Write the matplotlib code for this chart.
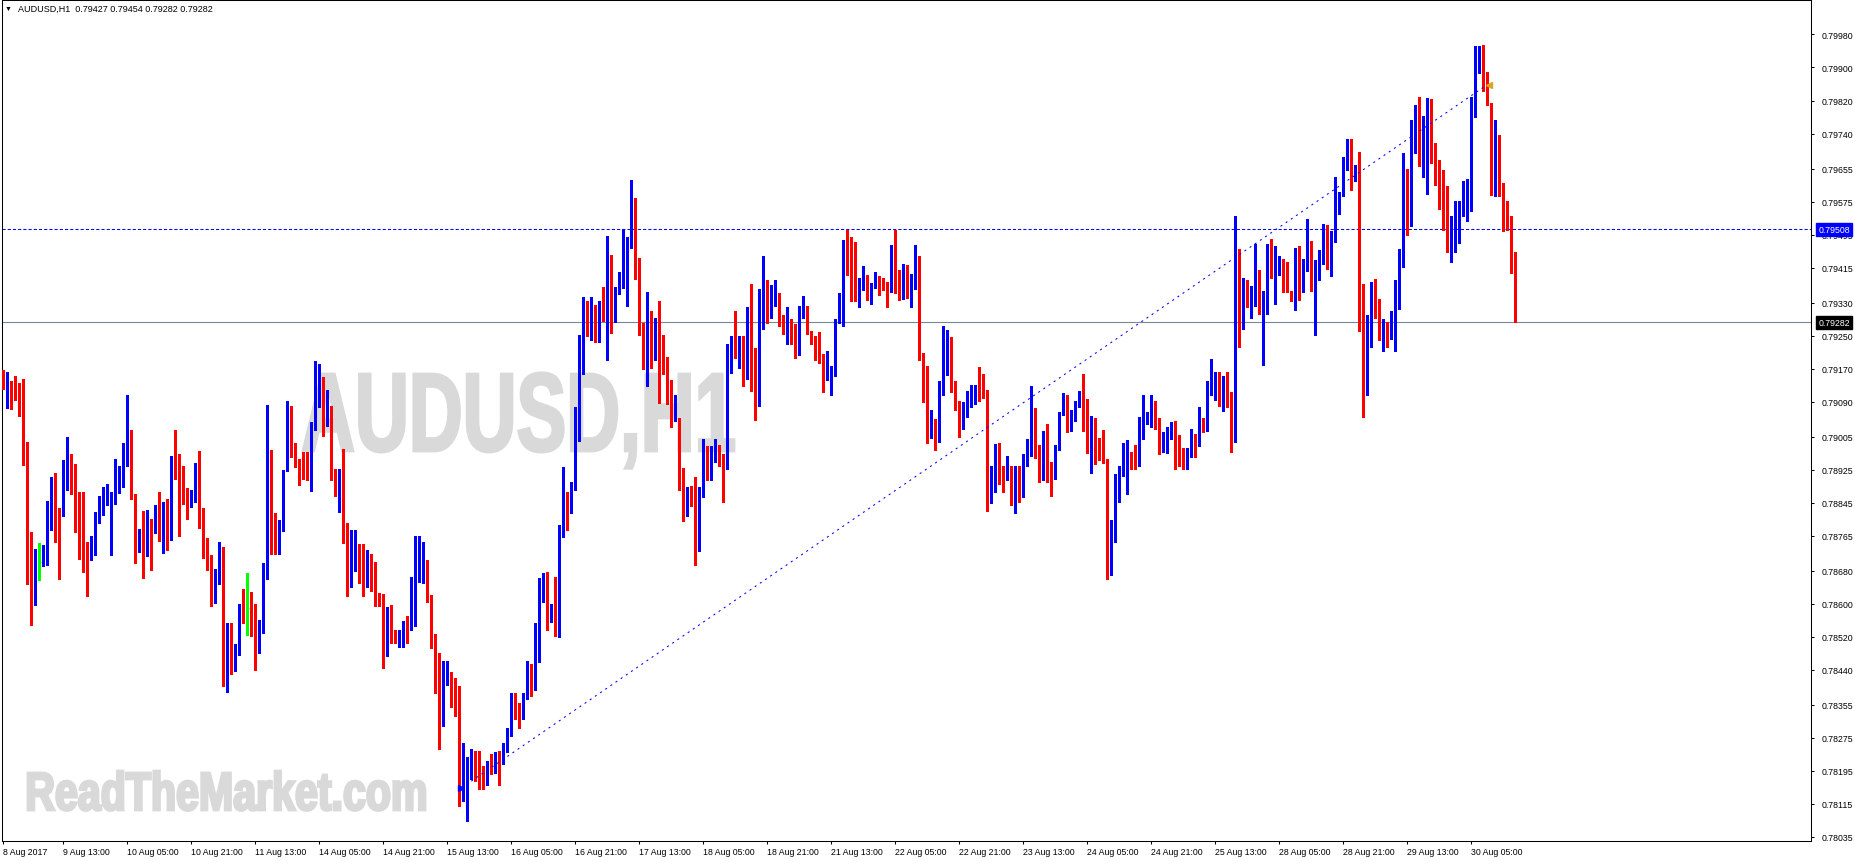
import numpy as np
import pandas as pd
import matplotlib
matplotlib.use('Agg')
import matplotlib.pyplot as plt
from matplotlib.textpath import TextPath
from matplotlib.font_manager import FontProperties
from matplotlib.patches import PathPatch
from matplotlib.transforms import Affine2D

W, H = 1856, 862

# AUDUSD H1 bars, prices in points (1 point = 0.00001)
open_pts = [
    79165, 79123, 79139, 79123, 79123, 79114, 78943, 78718, 78600, 78701,
    78701, 78713, 78830, 78862, 78832, 78816, 78878, 78917, 78903, 78861,
    78768, 78721, 78709, 78755, 78799, 78820, 78857, 78850, 78865, 78913,
    78917, 78960, 79009, 78862, 78756, 78769, 78735, 78794, 78777, 78832,
    78796, 78825, 78760, 78959, 78915, 78881, 78870, 78852, 78860, 78908,
    78823, 78747, 78710, 78636, 78683, 78709, 78474, 78509, 78474, 78499,
    78600, 78589, 78589, 78575, 78520, 78545, 78680, 78890, 78775, 78733,
    78795, 78923, 79075, 78969, 78936, 78923, 78905, 78899, 79036, 79117,
    79151, 79042, 79080, 78915, 78899, 78915, 78796, 78650, 78700, 78740,
    78690, 78670, 78690, 78660, 78624, 78621, 78476, 78573, 78535, 78505,
    78512, 78557, 78551, 78604, 78680, 78680, 78697, 78613, 78512, 78465,
    78331, 78415, 78428, 78387, 78341, 78131, 78151, 78196, 78209, 78194,
    78184, 78174, 78210, 78194, 78221, 78212, 78252, 78290, 78370, 78340,
    78330, 78373, 78426, 78394, 78462, 78625, 78670, 78561, 78585, 78537,
    78781, 78836, 78823, 78876, 78996, 79181, 79311, 79240, 79325, 79238,
    79325, 79307, 79422, 79323, 79359, 79367, 79383, 79464, 79576, 79391,
    79280, 79189, 79299, 79197, 79256, 79175, 79164, 79094, 79046, 79050,
    78885, 78840, 78874, 78872, 78745, 78882, 78955, 78915, 78945, 78986,
    78963, 78947, 79169, 79228, 79196, 79218, 79149, 79290, 79173, 79117,
    79321, 79351, 79299, 79321, 79331, 79264, 79257, 79285, 79258, 79242,
    79292, 79304, 79258, 79234, 79208, 79206, 79153, 79156, 79165, 79288,
    79323, 79456, 79433, 79363, 79345, 79383, 79394, 79345, 79367, 79379,
    79374, 79373, 79359, 79460, 79385, 79375, 79417, 79353, 79386, 79400,
    79208, 79176, 79036, 79048, 79039, 79125, 79207, 79235, 79118, 79084,
    79036, 79078, 79094, 79107, 79125, 79114, 79109, 78919, 78923, 78981,
    78907, 78903, 78933, 78909, 78912, 78866, 78954, 78963, 79050, 78955,
    78909, 78963, 78919, 78905, 78981, 79060, 79088, 79024, 79056, 79078,
    79103, 79024, 78977, 79048, 79002, 78985, 78951, 78705, 78804, 78900,
    78925, 78943, 78967, 78957, 78939, 79030, 79038, 79052, 79076, 79050,
    78977, 79000, 79014, 79030, 78971, 78971, 78927, 78967, 79003, 78986,
    79050, 79036, 79127, 79135, 79155, 79099, 79151, 79080, 79008, 79390,
    79270, 79385, 79341, 79359, 79407, 79187, 79319, 79454, 79410, 79426,
    79432, 79412, 79359, 79355, 79426, 79363, 79406, 79475, 79362, 79396,
    79442, 79496, 79442, 79496, 79545, 79596, 79680, 79717, 79626, 79623,
    79375, 79161, 79254, 79378, 79327, 79264, 79270, 79258, 79262, 79385,
    79446, 79601, 79522, 79702, 79749, 79662, 79678, 79821, 79717, 79658,
    79585, 79577, 79456, 79480, 79496, 79550, 79580, 79595, 79808, 79892,
    79935, 79854, 79814, 79646, 79735, 79595, 79549, 79523, 79427,
]
high_pts = [
    79167, 79163, 79139, 79153, 79135, 79145, 78993, 78775, 78733, 78747,
    78743, 78850, 78908, 78917, 78832, 78949, 79004, 78963, 78939, 78872,
    78872, 78751, 78765, 78822, 78862, 78884, 78890, 78870, 78951, 78933,
    78991, 79106, 79021, 78866, 78781, 78826, 78827, 78806, 78840, 78870,
    78848, 78854, 78959, 79021, 78963, 78935, 78882, 78876, 78941, 78971,
    78832, 78760, 78718, 78684, 78749, 78739, 78553, 78553, 78503, 78600,
    78636, 78675, 78629, 78600, 78560, 78700, 79082, 78973, 78819, 78803,
    78924, 79091, 79080, 78989, 78951, 78969, 78969, 79040, 79189, 79181,
    79151, 79118, 79080, 78927, 78927, 78975, 78796, 78779, 78779, 78745,
    78745, 78730, 78720, 78701, 78626, 78625, 78592, 78597, 78537, 78537,
    78559, 78570, 78664, 78765, 78764, 78751, 78706, 78621, 78528, 78481,
    78462, 78461, 78434, 78420, 78402, 78263, 78228, 78248, 78244, 78244,
    78208, 78220, 78236, 78242, 78244, 78263, 78300, 78385, 78385, 78360,
    78385, 78462, 78454, 78553, 78662, 78674, 78678, 78600, 78664, 78790,
    78932, 78872, 78895, 79076, 79252, 79343, 79335, 79343, 79325, 79335,
    79367, 79492, 79446, 79369, 79405, 79509, 79488, 79627, 79584, 79438,
    79280, 79357, 79311, 79293, 79335, 79252, 79198, 79143, 79107, 79050,
    78929, 78884, 78886, 78907, 78884, 79000, 78983, 78983, 79000, 78986,
    78963, 79230, 79250, 79311, 79248, 79250, 79320, 79375, 79220, 79363,
    79444, 79385, 79373, 79385, 79353, 79299, 79319, 79290, 79278, 79323,
    79347, 79323, 79261, 79250, 79258, 79206, 79214, 79177, 79290, 79353,
    79482, 79505, 79490, 79478, 79391, 79420, 79396, 79377, 79404, 79395,
    79390, 79379, 79470, 79506, 79409, 79424, 79421, 79399, 79470, 79444,
    79208, 79176, 79070, 79048, 79141, 79274, 79264, 79246, 79141, 79092,
    79090, 79115, 79131, 79131, 79173, 79157, 79118, 78935, 78987, 78991,
    78935, 78959, 78933, 78933, 78933, 78963, 78999, 79129, 79074, 78985,
    79020, 79036, 78943, 78985, 79064, 79110, 79106, 79071, 79091, 79115,
    79157, 79097, 79055, 79050, 79002, 79021, 78951, 78804, 78915, 78935,
    78991, 78997, 78969, 78985, 79052, 79105, 79064, 79105, 79092, 79050,
    79016, 79028, 79040, 79042, 79009, 78977, 78977, 79024, 79012, 79076,
    79050, 79141, 79193, 79163, 79163, 79152, 79161, 79113, 79541, 79460,
    79390, 79385, 79370, 79472, 79409, 79359, 79472, 79484, 79468, 79442,
    79437, 79428, 79359, 79462, 79468, 79436, 79533, 79480, 79433, 79458,
    79521, 79518, 79504, 79634, 79599, 79682, 79727, 79727, 79664, 79694,
    79375, 79300, 79381, 79387, 79339, 79290, 79282, 79311, 79385, 79460,
    79693, 79654, 79773, 79810, 79828, 79783, 79826, 79824, 79717, 79676,
    79652, 79612, 79541, 79577, 79577, 79626, 79630, 79828, 79951, 79951,
    79955, 79890, 79814, 79773, 79736, 79620, 79577, 79541, 79454,
]
low_pts = [
    79121, 79075, 79072, 79093, 79056, 78937, 78648, 78549, 78597, 78659,
    78691, 78693, 78780, 78751, 78660, 78814, 78876, 78866, 78773, 78709,
    78678, 78620, 78707, 78718, 78796, 78815, 78840, 78719, 78842, 78869,
    78884, 78935, 78854, 78699, 78726, 78663, 78717, 78682, 78772, 78753,
    78723, 78731, 78755, 78903, 78765, 78842, 78806, 78834, 78846, 78785,
    78710, 78682, 78596, 78602, 78648, 78402, 78387, 78430, 78438, 78476,
    78553, 78524, 78523, 78440, 78480, 78530, 78660, 78720, 78720, 78720,
    78777, 78923, 78955, 78932, 78889, 78903, 78899, 78873, 79022, 79076,
    79008, 79032, 78901, 78862, 78823, 78748, 78620, 78640, 78680, 78650,
    78620, 78640, 78630, 78594, 78594, 78444, 78474, 78504, 78504, 78496,
    78495, 78505, 78537, 78547, 78652, 78650, 78605, 78492, 78384, 78247,
    78305, 78404, 78349, 78329, 78109, 78121, 78074, 78175, 78171, 78151,
    78151, 78162, 78188, 78190, 78162, 78212, 78240, 78280, 78320, 78300,
    78320, 78370, 78377, 78390, 78458, 78604, 78537, 78555, 78523, 78520,
    78761, 78779, 78819, 78876, 78994, 79157, 79248, 79240, 79234, 79234,
    79286, 79191, 79256, 79282, 79351, 79366, 79323, 79462, 79387, 79252,
    79169, 79129, 79171, 79191, 79088, 79156, 79084, 79029, 79044, 78876,
    78802, 78814, 78838, 78693, 78729, 78858, 78900, 78900, 78943, 78933,
    78848, 78927, 79159, 79196, 79172, 79129, 79145, 79117, 79046, 79080,
    79266, 79280, 79293, 79321, 79274, 79254, 79231, 79231, 79196, 79204,
    79292, 79254, 79231, 79191, 79183, 79114, 79143, 79105, 79153, 79280,
    79274, 79396, 79335, 79335, 79320, 79361, 79336, 79327, 79365, 79349,
    79361, 79319, 79357, 79353, 79336, 79339, 79341, 79320, 79363, 79191,
    79090, 78990, 79002, 78973, 78992, 79105, 79155, 79113, 79070, 79005,
    79024, 79054, 79076, 79084, 79091, 79099, 78826, 78844, 78870, 78891,
    78872, 78901, 78840, 78819, 78846, 78860, 78933, 78959, 78954, 78895,
    78901, 78895, 78862, 78903, 78974, 79058, 79017, 79020, 79042, 79076,
    79020, 78966, 78916, 78939, 78949, 78941, 78660, 78670, 78749, 78848,
    78911, 78866, 78928, 78928, 78935, 78999, 79036, 79028, 79025, 78963,
    78967, 78966, 78999, 78928, 78935, 78927, 78927, 78955, 78955, 78983,
    79016, 79020, 79106, 79095, 79079, 79068, 79076, 78967, 78993, 79222,
    79266, 79319, 79292, 79323, 79303, 79179, 79303, 79389, 79327, 79397,
    79357, 79357, 79335, 79312, 79337, 79355, 79406, 79359, 79252, 79385,
    79424, 79412, 79395, 79478, 79545, 79588, 79652, 79602, 79626, 79262,
    79052, 79105, 79223, 79294, 79240, 79214, 79222, 79242, 79214, 79315,
    79416, 79495, 79517, 79693, 79662, 79635, 79593, 79668, 79616, 79557,
    79505, 79452, 79429, 79454, 79474, 79541, 79529, 79553, 79779, 79886,
    79842, 79808, 79592, 79589, 79589, 79503, 79505, 79401, 79282,
]
close_pts = [
    79125, 79137, 79121, 79118, 79109, 78943, 78717, 78600, 78705, 78701,
    78713, 78830, 78862, 78830, 78816, 78878, 78919, 78903, 78861, 78768,
    78721, 78709, 78755, 78799, 78820, 78857, 78876, 78865, 78917, 78920,
    78961, 79009, 78860, 78756, 78769, 78735, 78794, 78777, 78832, 78796,
    78825, 78760, 78959, 78915, 78877, 78870, 78852, 78860, 78908, 78823,
    78747, 78709, 78636, 78683, 78710, 78474, 78509, 78474, 78499, 78600,
    78590, 78589, 78575, 78520, 78545, 78680, 78890, 78775, 78733, 78795,
    78920, 79075, 78965, 78932, 78932, 78903, 78899, 79036, 79117, 79151,
    79042, 79080, 78913, 78899, 78915, 78794, 78650, 78700, 78740, 78690,
    78670, 78690, 78660, 78624, 78620, 78476, 78575, 78535, 78505, 78512,
    78557, 78551, 78604, 78682, 78683, 78697, 78613, 78512, 78465, 78331,
    78415, 78430, 78387, 78341, 78131, 78149, 78208, 78209, 78194, 78184,
    78174, 78210, 78194, 78221, 78212, 78252, 78290, 78370, 78340, 78330,
    78370, 78426, 78394, 78462, 78629, 78672, 78561, 78585, 78537, 78781,
    78834, 78826, 78876, 79018, 79183, 79289, 79258, 79299, 79236, 79325,
    79307, 79422, 79328, 79361, 79370, 79383, 79466, 79576, 79390, 79274,
    79189, 79299, 79193, 79258, 79173, 79165, 79092, 79050, 79050, 78882,
    78838, 78876, 78872, 78745, 78882, 78955, 78915, 78949, 78986, 78963,
    78947, 79169, 79228, 79196, 79220, 79149, 79290, 79173, 79117, 79323,
    79353, 79299, 79323, 79331, 79277, 79257, 79285, 79257, 79244, 79292,
    79304, 79256, 79232, 79206, 79206, 79149, 79157, 79167, 79290, 79324,
    79458, 79432, 79363, 79345, 79385, 79394, 79345, 79369, 79398, 79371,
    79371, 79359, 79460, 79382, 79373, 79417, 79353, 79387, 79400, 79206,
    79175, 79036, 79048, 79040, 79127, 79208, 79232, 79117, 79084, 79038,
    79078, 79097, 79101, 79125, 79113, 79103, 78919, 78924, 78981, 78907,
    78903, 78935, 78909, 78912, 78866, 78954, 78967, 79048, 78954, 78909,
    78963, 78916, 78907, 78981, 79060, 79087, 79024, 79058, 79079, 79103,
    79021, 78977, 79048, 79002, 78982, 78951, 78705, 78804, 78915, 78925,
    78943, 78967, 78953, 78943, 79030, 79038, 79056, 79076, 79050, 78981,
    79008, 79014, 79030, 78969, 78966, 78927, 78969, 79003, 78987, 79050,
    79038, 79129, 79135, 79160, 79099, 79151, 79080, 79008, 79390, 79272,
    79383, 79341, 79362, 79409, 79315, 79321, 79458, 79410, 79426, 79432,
    79410, 79357, 79353, 79426, 79363, 79406, 79475, 79362, 79397, 79442,
    79496, 79442, 79496, 79545, 79597, 79680, 79717, 79626, 79631, 79374,
    79161, 79254, 79378, 79325, 79264, 79269, 79256, 79264, 79385, 79448,
    79601, 79521, 79702, 79749, 79662, 79681, 79820, 79716, 79658, 79585,
    79577, 79456, 79480, 79496, 79550, 79581, 79595, 79808, 79896, 79935,
    79854, 79812, 79642, 79737, 79593, 79547, 79523, 79424, 79282,
]

first_bar_time = '2017-08-08 22:00'
time_labels = ['8 Aug 2017', '9 Aug 13:00', '10 Aug 05:00', '10 Aug 21:00', '11 Aug 13:00',
               '14 Aug 05:00', '14 Aug 21:00', '15 Aug 13:00', '16 Aug 05:00', '16 Aug 21:00',
               '17 Aug 13:00', '18 Aug 05:00', '18 Aug 21:00', '21 Aug 13:00', '22 Aug 05:00',
               '22 Aug 21:00', '23 Aug 13:00', '24 Aug 05:00', '24 Aug 21:00', '25 Aug 13:00',
               '28 Aug 05:00', '28 Aug 21:00', '29 Aug 13:00', '30 Aug 05:00']
price_ticks = [0.79980, 0.79900, 0.79820, 0.79740, 0.79655, 0.79575, 0.79495, 0.79415,
               0.79330, 0.79250, 0.79170, 0.79090, 0.79005, 0.78925, 0.78845, 0.78765,
               0.78680, 0.78600, 0.78520, 0.78440, 0.78355, 0.78275, 0.78195, 0.78115,
               0.78035]
header_text = 'AUDUSD,H1  0.79427 0.79454 0.79282 0.79282'
bid_price = 0.79282
level_price = 0.79508
trend_bars = [114.4, 370.6]
trend_prices = [0.78153, 0.79856]

BULL, BEAR, DOJI = '#0000ff', '#ff0000', '#00ff00'

plt.rcParams['font.family'] = ['Liberation Sans', 'DejaVu Sans']

o = np.array(open_pts) / 1e5
h = np.array(high_pts) / 1e5
l = np.array(low_pts) / 1e5
c = np.array(close_pts) / 1e5
n = len(c)
x = np.arange(n)

# hourly bar times, weekends skipped
times = []
t = pd.Timestamp(first_bar_time)
while len(times) < n:
    if t.weekday() < 5:
        times.append(t)
    t += pd.Timedelta(hours=1)
stamp = [f'{tt.day} {tt:%b} {tt:%H:%M}' for tt in times]
label_idx = [0] + [stamp.index(s) for s in time_labels[1:]]

fig = plt.figure(figsize=(W / 100, H / 100), dpi=100)
fig.patch.set_facecolor('white')

# background layer in pixel coordinates, for watermarks
bg = fig.add_axes([0, 0, 1, 1], zorder=0)
bg.set_xlim(0, W)
bg.set_ylim(H, 0)
bg.axis('off')

wm_font = FontProperties(family=['Liberation Sans Narrow', 'Liberation Sans'], weight='bold')


def watermark(s, left, right, baseline, cap_px, color):
    tp = TextPath((0, 0), s, size=100, prop=wm_font)
    bb = tp.get_extents()
    cap = TextPath((0, 0), 'H', size=100, prop=wm_font).get_extents().height
    sx = (right - left) / bb.width
    sy = cap_px / cap
    tr = Affine2D().translate(-bb.x0, 0).scale(sx, -sy).translate(left, baseline)
    bg.add_patch(PathPatch(tr.transform_path(tp), fc=color, ec=color, lw=2.0))


watermark('AUDUSD,H1', 303, 734, 452, 77, '#d9d9d9')
watermark('ReadTheMarket.com', 28, 425, 811, 37, '#d9d9d9')

ax = fig.add_axes([2 / W, 20 / H, 1809 / W, 841 / H], zorder=1)
ax.set_facecolor('none')
ax.set_xlim(-0.325, 451.9)
ax.set_ylim(0.780252, 0.800636)

colors = np.where(c > o, BULL, np.where(c < o, BEAR, DOJI))
ax.vlines(x, l, h, colors=colors, lw=0.8, antialiased=False, zorder=3)
body = np.maximum(np.abs(c - o), 0.000025)
solid = c != o
ax.bar(x[solid], body[solid], bottom=np.minimum(o, c)[solid], width=0.85,
       color=colors[solid], linewidth=0, antialiased=False, zorder=3)
doji = ~solid
ax.hlines(c[doji], x[doji] - 0.45, x[doji] + 0.45, colors=DOJI, lw=0.8, zorder=3)

ax.axhline(bid_price, color='#778899', lw=0.8, zorder=2)
ax.axhline(level_price, color='#0000ff', lw=0.75, dashes=(3, 2), zorder=2)
ax.plot(trend_bars, trend_prices, color='#0000ff', lw=0.75, dashes=(2, 4), zorder=4)
ax.plot(trend_bars[0], trend_prices[0], marker='>', ms=4, color='#0000ff', zorder=5)
ax.plot(trend_bars[1] + 0.8, trend_prices[1] + 0.00002, marker='<', ms=5,
        color='#daa520', zorder=5)

for side in ax.spines.values():
    side.set_linewidth(0.75)
    side.set_color('black')

ax.yaxis.tick_right()
ax.set_yticks(price_ticks)
ax.set_yticklabels([f'{v:.5f}' for v in price_ticks])
ax.tick_params(axis='y', length=2.5, width=0.75, pad=5, labelsize=6.3, direction='out')
ax.set_xticks(label_idx)
ax.set_xticklabels(time_labels, ha='left')
ax.tick_params(axis='x', length=2.5, width=0.75, pad=1.5, labelsize=6.3, direction='out')


def price_tag(price, fc):
    ax.annotate(f'{price:.5f}', xy=(1, price), xycoords=('axes fraction', 'data'),
                xytext=(5.5, 0), textcoords='offset points', ha='left', va='center',
                fontsize=6.3, color='white', annotation_clip=False, zorder=6,
                bbox=dict(boxstyle='square,pad=0.25', fc=fc, ec=fc))


price_tag(level_price, '#0000ff')
price_tag(bid_price, '#000000')

fig.text(5 / W, 1 - 9.5 / H, '\u25bc', fontsize=5, va='center', ha='left')
fig.text(18 / W, 1 - 9.5 / H, header_text, fontsize=6.5, va='center', ha='left')

fig.savefig('out.png', dpi=100, facecolor='white')
